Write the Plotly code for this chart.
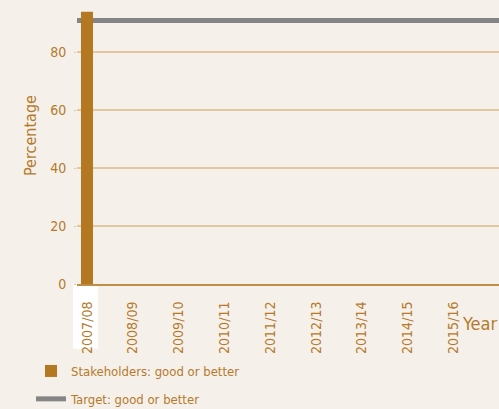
import plotly.graph_objects as go

years = ["2007/08", "2008/09", "2009/10", "2010/11", "2011/12",
         "2012/13", "2013/14", "2014/15", "2015/16"]
stakeholders = [94, None, None, None, None, None, None, None, None]
target_value = 91
y_ticks = [0, 20, 40, 60, 80]

TXT = "#B5792C"
BAR = "#B47722"
GRID = "#E3C89F"
AXIS = "#C18C45"
BG = "#F5F1EA"
GRAY = "#858585"
FONT = "DejaVu Sans Condensed, Liberation Sans Narrow, Roboto, sans-serif"

fig = go.Figure()
fig.add_trace(go.Bar(
    x=years, y=stakeholders, name="Stakeholders: good or better",
    marker=dict(color=BAR, line=dict(width=0)), width=0.262,
    legendgroup="a",
))

fig.add_shape(type="line", xref="paper", x0=0, x1=1, yref="y",
              y0=target_value, y1=target_value,
              line=dict(color=GRAY, width=5), layer="below",
              showlegend=True, name="Target: good or better", legendgroup="b")

# white highlight behind first tick label
fig.add_shape(type="rect", xref="paper", yref="paper",
              x0=-0.0095, x1=0.0498, y0=-0.229, y1=0.0,
              fillcolor="white", line=dict(width=0), layer="below")

fig.add_annotation(text="Year", xref="paper", yref="paper",
                   x=1.0, y=(284 - 323) / 284,
                   xanchor="right", yanchor="middle", showarrow=False,
                   font=dict(size=18, color=TXT, family=FONT))

fig.add_annotation(text="Percentage", xref="paper", yref="paper",
                   x=(30 - 77) / 422, y=(284 - 136) / 284, textangle=-90,
                   xanchor="center", yanchor="middle", showarrow=False,
                   font=dict(size=16, color=TXT, family=FONT))

fig.update_layout(
    width=499, height=409,
    margin=dict(l=77, r=0, t=0, b=125, autoexpand=False),
    paper_bgcolor=BG, plot_bgcolor=BG,
    font=dict(family=FONT, color=TXT, size=14),
    showlegend=True,
    legend=dict(xref="container", yref="container",
                x=31 / 499, y=1 - 356 / 409, xanchor="left", yanchor="top",
                bgcolor="rgba(0,0,0,0)", font=dict(size=13, color=TXT),
                tracegroupgap=8, traceorder="grouped"),
    xaxis=dict(type="category", categoryarray=years, categoryorder="array",
               range=[-0.218, 8.996], tickangle=-90, showgrid=False,
               showline=True, linecolor=AXIS, linewidth=2,
               ticks="", ticklabelstandoff=10, automargin=False,
               tickfont=dict(size=14, color=TXT)),
    yaxis=dict(range=[0, 98.1], tickvals=y_ticks, showgrid=True,
               gridcolor=GRID, gridwidth=1.5, zeroline=False,
               showline=False, ticks="outside", ticklen=2, tickcolor=GRID,
               ticklabelstandoff=5, automargin=False,
               tickfont=dict(size=14, color=TXT)),
)

fig.write_html("out.html", config={"displayModeBar": False},
               post_script="document.body.style.margin='0';"
                           "document.body.style.overflow='hidden';")
